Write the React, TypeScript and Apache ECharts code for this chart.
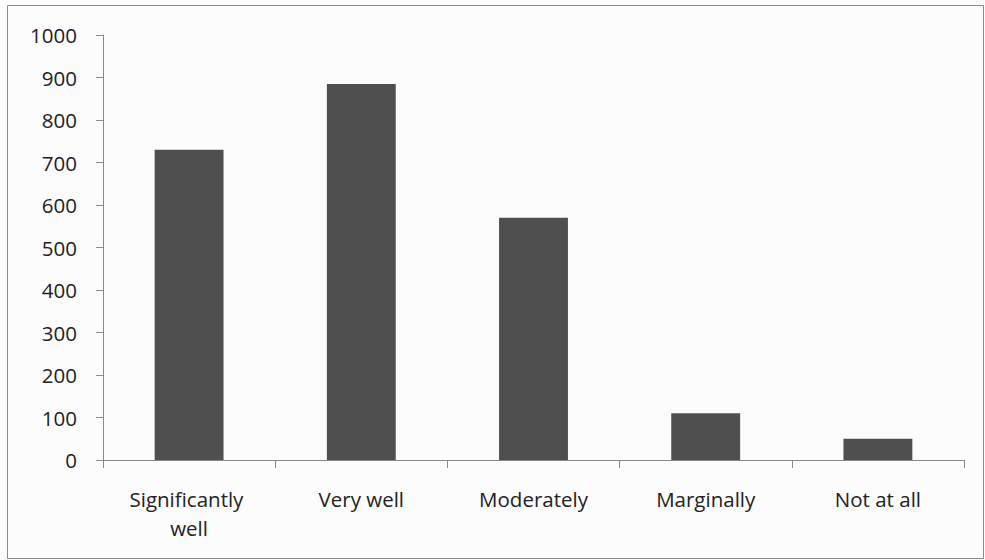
import React, { useEffect, useRef } from "react";
import * as echarts from "echarts";

const categories = ["Significantly well", "Very well", "Moderately", "Marginally", "Not at all"];
const values = [730, 885, 570, 110, 50];
const yMin = 0;
const yMax = 1000;
const yInterval = 100;

export default function App() {
  const ref = useRef<HTMLDivElement>(null);
  useEffect(() => {
    document.body.style.margin = "0";
    const chart = echarts.init(ref.current!, undefined, { renderer: "svg" });
    chart.setOption({
      animation: false,
      backgroundColor: "#fdfcfc",
      graphic: [
        {
          type: "rect",
          shape: { x: 7.5, y: 5.5, width: 976, height: 553 },
          style: { fill: "none", stroke: "#8a8a8a", lineWidth: 1 },
        },
      ],
      grid: { left: 103, right: 21, top: 35, bottom: 100 },
      xAxis: {
        type: "category",
        data: categories,
        axisLine: { lineStyle: { color: "#8a8a8a", width: 1 } },
        axisTick: { show: true, length: 8, lineStyle: { color: "#8a8a8a" } },
        axisLabel: {
          color: "#222",
          fontFamily: "Open Sans",
          fontSize: 20.5,
          margin: 24,
          lineHeight: 29,
          width: 150,
          overflow: "break",
          interval: 0,
        },
      },
      yAxis: {
        type: "value",
        min: yMin,
        max: yMax,
        interval: yInterval,
        splitLine: { show: false },
        axisLine: { show: true, lineStyle: { color: "#8a8a8a", width: 1 } },
        axisTick: { show: true, length: 7, lineStyle: { color: "#8a8a8a" } },
        axisLabel: {
          color: "#222",
          fontFamily: "Open Sans",
          fontSize: 20.5,
          margin: 26,
          formatter: (v: number) => String(v),
        },
      },
      series: [
        {
          type: "bar",
          data: values,
          barWidth: "40%",
          itemStyle: { color: "#4f4f4f" },
        },
      ],
    });
    return () => chart.dispose();
  }, []);
  return <div ref={ref} style={{ width: 985, height: 560 }} />;
}
